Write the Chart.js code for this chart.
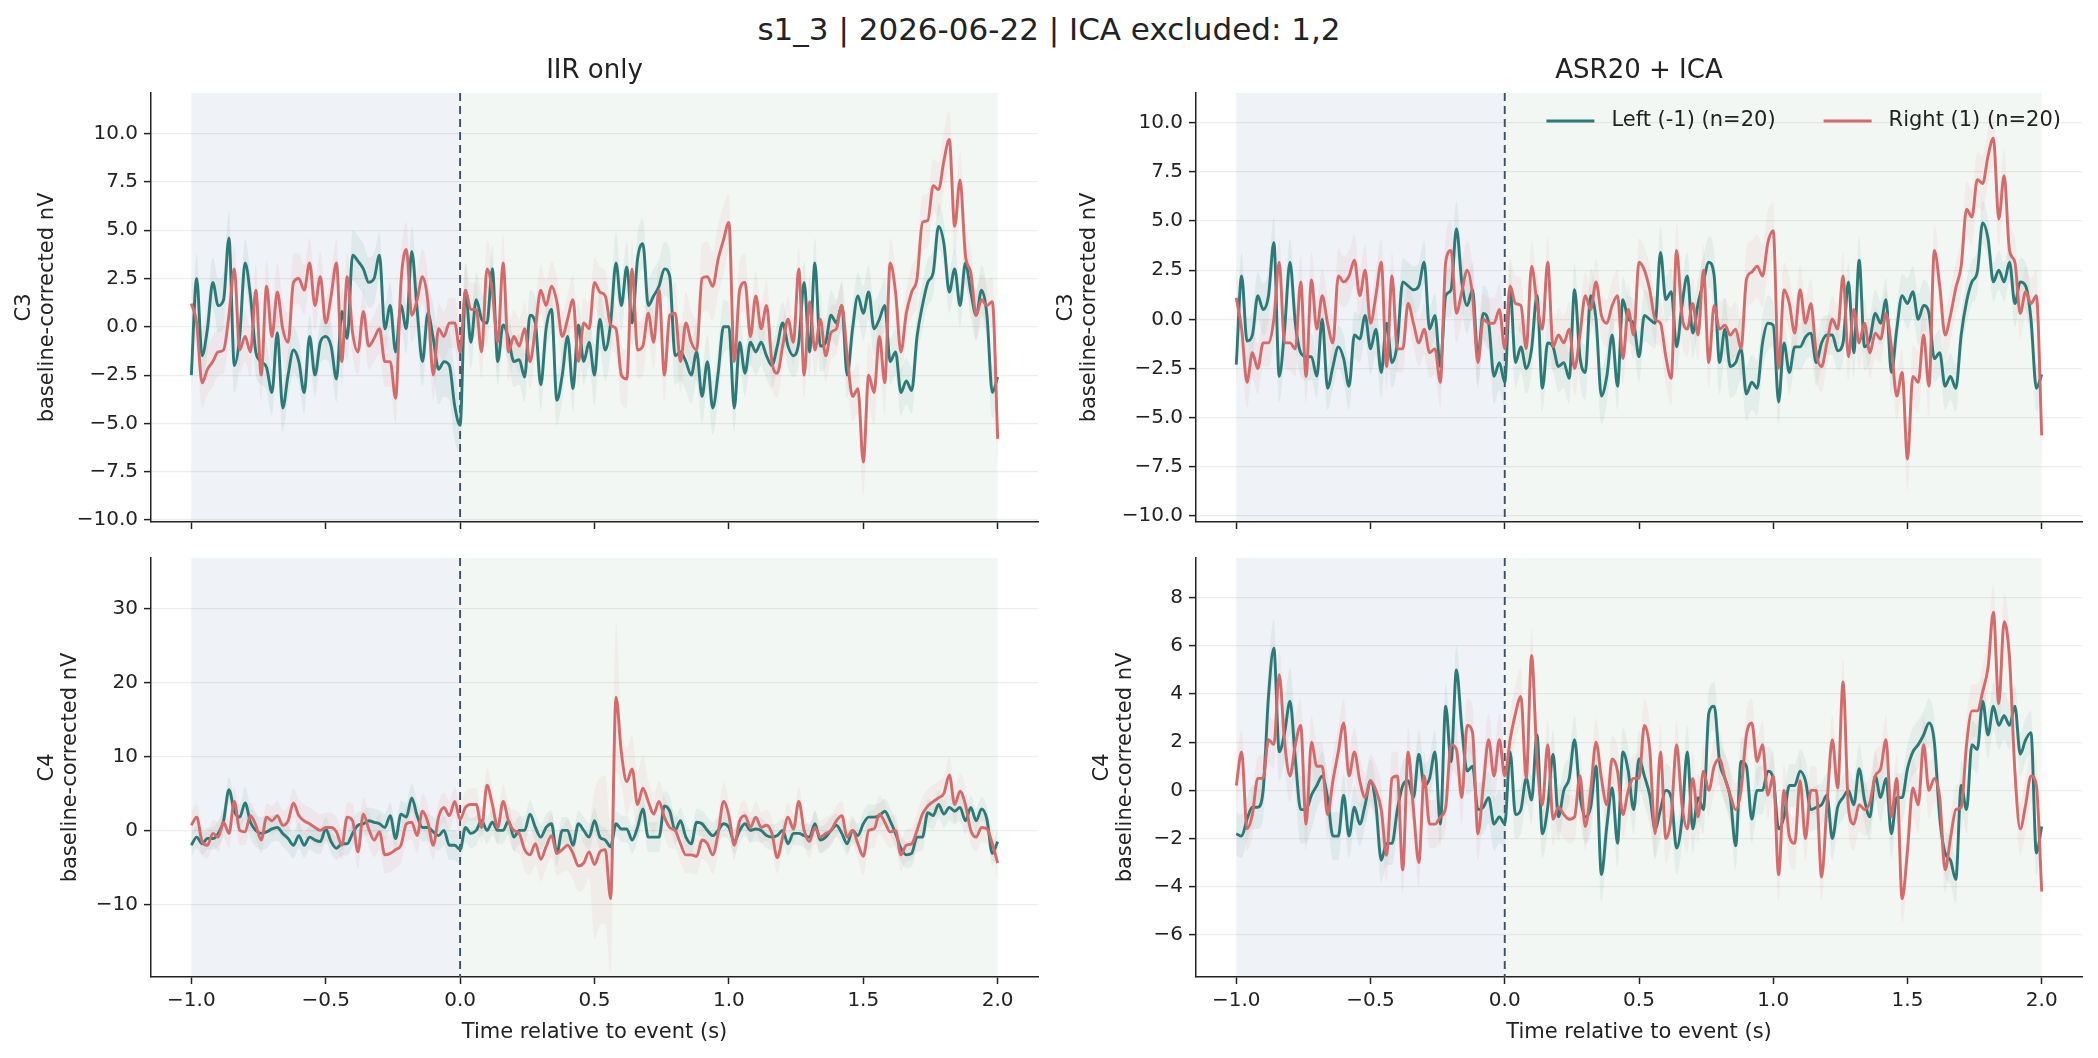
<!DOCTYPE html>
<html>
<head>
<meta charset="utf-8">
<script src="https://cdn.jsdelivr.net/npm/chart.js@4.4.1/dist/chart.umd.min.js"></script>
<style>
  body { margin: 0; background: #fff; width: 2098px; height: 1058px; position: relative; overflow: hidden; font-family: "DejaVu Sans", sans-serif; }
  #suptitle { position: absolute; left: 0; top: 10px; width: 2098px; text-align: center; font-size: 31px; line-height: 38px; color: #222; }
  canvas { position: absolute; }
</style>
</head>
<body>
<div id="suptitle">s1_3 | 2026-06-22 | ICA excluded: 1,2</div>
<canvas id="c3iir" width="1049" height="500" style="left:0;top:40px"></canvas>
<canvas id="c3asr" width="1049" height="500" style="left:1049px;top:40px"></canvas>
<canvas id="c4iir" width="1049" height="518" style="left:0;top:540px"></canvas>
<canvas id="c4asr" width="1049" height="518" style="left:1049px;top:540px"></canvas>
<script>
// sample grid: -1.0 .. 2.0 s, every 0.02 s (151 samples)
const times = Array.from({length: 151}, (_, i) => -1 + i * 0.02);
const xTicks = [-1, -0.5, 0, 0.5, 1, 1.5, 2];
const c3Ticks = [-10, -7.5, -5, -2.5, 0, 2.5, 5, 7.5, 10];
const c4IirTicks = [-10, 0, 10, 20, 30];
const c4AsrTicks = [-6, -4, -2, 0, 2, 4, 6, 8];
const baselineWin = [-1, 0];
const postWin = [0, 2];

// C3, IIR only
const c3IirLeft = [-2.5,2.5,-1.5,-0.1,2.3,1.1,1.4,4.6,-2.0,-0.5,3.3,1.6,-1.3,-1.8,-2.1,-3.4,-0.3,-4.2,-2.5,-1.2,-1.8,-3.4,-0.5,-2.5,-0.8,-0.5,-1.0,-2.7,0.8,-0.6,3.7,3.4,3.0,2.3,2.5,3.7,-0.1,1.1,-1.3,1.1,-0.1,3.9,0.9,-1.8,0.7,-0.6,-2.2,-1.8,-2.0,-4.1,-5.1,
  1.9,-0.8,1.4,0.4,0.2,3.0,-1.8,0.1,-0.6,-1.8,-1.7,-2.6,0.6,0.2,-3.0,-0.1,0.9,-3.8,-2.5,-0.5,-3.2,0.1,-1.8,-0.8,-2.5,0.4,-1.2,0.2,3.3,1.1,3.1,0.2,3.5,4.3,1.1,1.6,2.1,3.0,2.6,-1.5,-1.3,-1.8,-2.5,-1.3,-3.6,-1.8,-4.2,-2.4,0.0,0.0,
  -4.2,-0.8,-2.4,-0.8,-1.3,-0.8,-1.5,-2.0,-1.0,0.2,-1.0,-1.5,-0.8,2.3,-1.3,3.3,-1.0,-0.8,0.6,0.2,1.1,-2.5,-0.1,1.6,0.7,1.8,-0.1,0.4,1.1,-1.8,-1.3,-3.4,-2.8,-3.3,-0.5,1.1,2.3,2.8,5.2,4.3,1.8,3.0,1.1,3.3,1.8,0.6,1.9,0.6,-3.4,-2.6];
const c3IirRight = [1.2,0.2,-2.9,-2.2,-1.8,-1.3,-1.2,0.6,3.0,-1.2,-0.5,-1.3,1.9,-2.5,2.1,-0.5,1.8,-0.1,-0.8,2.3,2.5,1.9,3.3,1.1,2.6,0.2,1.6,3.3,-1.8,2.6,-0.3,-1.3,0.8,-1.0,-0.6,-0.1,-1.8,-1.8,-3.7,2.3,4.0,0.6,1.4,2.6,1.3,-2.5,-0.1,-0.5,0.2,0.2,-1.3,
  1.9,0.9,0.9,-1.3,3.0,1.8,-0.8,3.3,-1.3,-0.5,-1.0,-0.1,-1.8,-0.1,1.9,1.1,2.1,1.3,-0.5,0.4,1.4,-1.8,0.2,-0.1,2.3,1.8,1.6,0.1,-0.1,-2.5,-2.7,3.0,-1.2,-1.0,0.7,-0.8,1.9,-2.5,0.6,0.7,-1.8,0.2,-0.8,-1.2,2.5,2.6,2.1,3.5,4.5,5.4,
  -1.8,1.9,2.3,-0.5,1.6,-0.1,1.1,-1.8,-2.4,-1.0,0.4,-0.8,3.0,-2.5,1.3,-1.2,0.4,-1.5,-0.3,-0.1,1.1,-1.5,-3.6,-3.2,-7.0,-2.5,-3.4,-0.5,-2.9,3.3,1.8,-1.3,0.7,1.8,2.5,5.4,5.5,7.3,7.1,8.6,9.7,5.2,7.6,3.7,2.8,0.6,1.4,1.1,1.3,-5.8];
// half-width of the shaded band, one value per 0.1 s
const c3IirLeftSem = [1.3,1.4,1.2,1.2,1.1,1.2,1.3,1.2,1.3,1.8,1.4,1.2,1.3,1.3,1.2,1.6,1.3,1.4,1.5,1.4,1.2,1.2,1.1,1.3,1.2,1.4,1.2,1.2,1.1,1.3];
const c3IirRightSem = [1.3,1.2,1.3,1.5,1.3,1.2,1.2,1.3,1.4,1.3,1.4,1.5,1.4,1.3,1.3,1.3,1.5,1.4,1.6,1.8,1.5,1.3,1.2,1.4,1.3,1.7,1.3,1.4,1.5,1.3];

// C3, ASR20 + ICA
const c3AsrLeft = [-2.3,2.2,-1.1,-0.8,1.2,0.5,1.2,3.9,-2.9,-0.5,2.9,-0.2,-1.7,-1.9,-1.9,-2.9,0.0,-3.5,-2.4,-1.4,-2.0,-3.4,-0.8,-1.0,0.2,-1.5,-0.5,-2.7,-0.2,-2.2,-1.2,1.9,1.7,1.5,1.7,2.9,-0.5,0.2,-2.4,1.2,1.5,4.6,1.9,0.7,1.5,-1.9,0.3,-0.2,-2.9,-2.2,-3.2,
  1.5,-2.2,-1.4,-2.5,-1.5,1.2,-3.5,-1.2,-1.4,-2.4,-2.2,-3.0,1.5,-1.9,-2.7,1.2,0.0,-3.9,-2.9,-0.8,-3.4,1.0,0.0,-0.2,-1.9,0.2,0.0,-0.2,3.4,1.0,1.4,-1.4,0.7,2.2,-0.7,0.8,1.9,2.9,2.2,-2.2,-0.5,-2.4,-2.2,-1.5,-3.8,-3.2,-3.5,-1.2,-0.2,-0.3,
  -4.2,-1.2,-2.7,-1.4,-1.4,-0.9,-0.7,-2.2,-1.2,-0.8,-0.8,-1.6,-1.2,1.9,-1.7,3.0,-1.4,-1.0,0.3,-0.2,1.0,-2.7,-0.5,1.2,0.8,1.4,0.0,0.7,0.3,-2.0,-1.7,-3.4,-2.9,-3.5,-0.8,0.9,1.9,2.4,4.9,4.1,1.9,2.5,1.9,2.9,0.8,1.9,1.7,0.0,-3.5,-2.8];
const c3AsrRight = [1.1,-0.5,-3.2,-1.7,-2.5,-1.2,-1.2,0.0,2.9,-1.2,-1.2,-1.5,1.9,-2.9,2.0,-0.5,1.2,-0.2,-1.2,2.2,1.9,2.2,3.0,1.2,2.5,-0.2,1.2,2.9,-2.4,2.2,-1.5,-1.5,0.8,-0.2,-1.2,-0.5,-1.7,-1.5,-3.2,2.9,3.5,0.3,1.4,2.5,1.2,-2.2,0.0,-0.2,-0.2,0.5,-1.5,
  1.7,0.8,0.7,-1.5,2.7,0.8,-0.5,2.9,-1.4,-0.8,-1.2,-0.5,-2.5,-0.8,1.2,0.5,1.9,0.2,-0.2,0.7,1.2,-2.0,0.5,-0.8,2.9,2.5,1.5,0.0,-0.2,-1.9,-3.0,3.5,0.2,-0.5,0.8,-0.8,2.5,-2.2,0.7,-0.5,-0.3,-0.8,-0.5,-1.5,2.0,2.4,2.7,2.2,3.9,4.5,
  -2.5,1.5,0.8,-0.7,1.5,-0.2,0.8,-1.7,-2.4,-1.2,0.0,-0.5,2.2,-1.9,0.5,-1.2,-0.2,-1.7,-0.7,-1.0,0.3,-1.4,-3.9,-2.7,-7.1,-2.9,-3.2,-0.8,-3.4,3.5,1.7,-0.8,0.2,1.6,2.7,5.6,5.2,7.1,6.9,8.3,9.2,5.1,7.3,3.5,2.9,0.3,1.4,0.8,1.2,-5.9];
const c3AsrLeftSem = [1.2,1.3,1.2,1.1,1.2,1.3,1.2,1.1,1.4,1.4,1.3,1.2,1.3,1.4,1.2,1.3,1.2,1.3,1.6,1.4,1.1,1.2,1.0,1.2,1.1,1.3,1.2,1.1,1.0,1.2];
const c3AsrRightSem = [1.3,1.2,1.4,1.4,1.3,1.2,1.2,1.3,1.5,1.3,1.4,1.3,1.4,1.2,1.3,1.2,1.4,1.3,1.4,1.6,1.4,1.3,1.2,1.3,1.2,1.6,1.3,1.4,1.4,1.3];

// C4, IIR only
const c4IirLeft = [-2.0,-0.9,-1.8,-1.1,-1.1,-0.4,1.3,5.5,2.6,1.8,3.7,1.1,0.0,-0.4,-0.2,0.2,0.4,-0.4,-1.1,-2.0,-0.7,-2.0,-0.9,-1.3,-1.5,0.2,-1.5,-2.4,-1.8,-1.8,-0.4,0.7,0.9,1.3,1.1,0.9,0.4,2.0,-1.1,2.2,1.8,4.4,2.0,0.4,0.4,-0.2,-0.7,0.0,-2.0,-2.0,-2.6,
  0.4,-0.4,0.0,1.3,0.0,1.1,0.0,0.0,1.3,-0.9,0.0,0.0,2.2,0.4,-0.9,0.4,0.9,-3.1,0.0,0.0,-2.0,0.9,0.0,-0.9,1.3,-0.9,-1.3,-2.2,0.9,0.2,0.2,-1.3,0.4,2.9,-0.9,-0.9,-0.9,3.3,2.6,0.0,1.3,-0.9,-1.8,1.1,0.9,0.0,-0.7,0.0,0.9,0.4,
  -1.5,0.0,0.9,0.0,0.2,0.0,-0.7,-0.9,-0.7,0.0,-1.8,-0.4,-0.4,-0.7,-0.9,0.9,-1.3,-0.9,0.0,0.7,-0.4,-1.8,0.0,-0.7,0.9,1.8,1.8,2.0,2.6,1.3,-0.4,-2.4,-3.3,-3.1,-0.9,-0.9,2.4,2.0,3.5,2.2,3.1,2.6,3.1,1.3,3.1,1.3,2.9,1.5,-3.1,-1.5];
const c4IirRight = [0.7,1.8,-1.5,-2.0,-0.4,-0.9,1.1,-0.4,3.9,0.0,-0.2,2.0,0.7,-1.3,1.8,1.3,2.0,0.7,1.3,3.7,2.0,1.3,0.9,0.4,0.0,0.4,0.4,-0.2,-2.0,1.8,1.3,-2.9,2.2,0.2,-1.3,-0.2,-3.3,-3.1,-2.6,-2.0,0.9,1.1,-0.7,2.6,1.1,-2.0,1.8,3.1,2.0,3.9,1.5,
  3.1,3.5,3.5,0.4,6.1,3.5,0.4,3.9,1.3,0.0,-0.4,-2.6,-3.3,-1.8,-3.9,-2.2,-0.7,-3.1,-2.6,-2.0,-3.1,-4.8,-4.4,-2.9,-4.6,-2.9,-2.6,-9.2,18.0,10.5,6.6,8.3,3.5,5.7,3.9,2.2,3.9,1.8,0.4,0.0,-1.8,-3.3,-3.3,-3.5,-1.3,-1.8,-3.3,-0.4,3.9,2.0,
  -2.0,1.3,2.0,0.4,1.8,0.4,0.7,-0.4,-3.7,-0.9,1.8,0.2,3.9,0.0,-1.5,0.4,-0.9,-0.4,0.0,1.3,2.0,-0.9,0.0,-1.8,-3.5,0.0,0.2,2.2,1.1,-0.2,0.0,-3.3,-2.0,-1.8,0.0,2.2,3.3,3.9,4.4,5.0,7.5,3.5,5.3,3.5,0.0,-0.9,0.4,0.2,-1.8,-4.4];
const c4IirLeftSem = [1.5,1.7,2.2,1.8,1.7,1.6,1.8,1.8,1.9,2.0,2.0,1.8,1.9,1.8,1.8,1.7,1.8,2.0,1.8,1.8,1.7,1.7,1.6,1.8,1.6,1.7,1.8,1.9,1.8,1.6];
const c4IirRightSem = [1.8,2.0,1.8,2.0,2.2,2.0,2.3,2.5,2.4,2.0,2.2,2.3,2.8,3.0,3.5,10.0,4.5,2.8,2.5,2.6,2.0,2.1,2.0,2.2,2.0,2.6,2.2,2.3,2.4,2.0];

// C4, ASR20 + ICA
const c4AsrLeft = [-1.8,-1.9,-1.2,-0.7,-0.7,0.0,3.9,5.9,1.6,2.4,3.7,1.3,-0.8,-0.8,-0.2,0.2,0.6,-0.3,-1.9,-1.9,-0.2,-1.9,-0.7,-1.4,-0.6,0.4,-0.6,-2.9,-2.2,-2.2,-0.8,0.2,0.4,-0.3,1.5,0.2,0.5,1.6,-1.4,3.5,1.2,5.0,2.6,0.8,1.0,-0.8,-0.7,-0.3,-1.4,-1.1,-1.4,
  1.6,-1.0,-0.8,0.5,-0.4,2.3,-1.8,-0.7,1.5,-1.1,0.0,0.5,2.1,-0.2,-1.1,-0.7,1.0,-3.5,-1.5,0.1,-2.2,1.6,0.8,-0.8,1.3,0.6,-0.2,-1.6,-0.8,0.0,-0.3,-2.4,-1.2,1.6,-1.6,-0.3,-0.8,3.2,3.5,1.2,0.5,-0.3,-2.3,1.2,1.0,-1.2,0.0,0.0,0.8,0.5,
  -1.6,-1.1,0.2,0.2,0.8,0.4,-0.8,-0.7,-0.6,-0.2,-2.0,-0.7,-0.3,0.0,-0.6,0.9,-0.4,-1.1,0.6,-0.3,0.5,-1.8,-0.3,-0.3,0.9,1.6,1.9,2.3,2.8,2.0,-1.1,-2.6,-2.9,-3.7,0.2,-0.8,1.9,1.7,3.7,2.3,3.5,2.7,3.1,2.7,3.5,1.5,2.1,2.4,-2.6,-1.5];
const c4AsrRight = [0.2,1.6,-1.6,-1.0,0.5,0.5,2.1,1.9,4.8,2.0,0.6,1.9,2.7,-1.4,2.0,1.0,1.0,-1.0,0.4,1.6,2.8,0.6,1.6,0.4,-0.3,0.4,0.0,-0.8,-2.7,0.5,0.6,-3.3,1.6,-0.8,-3.0,0.6,-1.4,-1.4,-1.1,-0.7,1.9,1.7,-0.3,2.7,2.4,-1.8,0.2,2.1,0.6,2.1,0.6,
  2.1,3.2,3.9,0.5,5.6,1.3,-0.6,1.9,-1.2,-0.7,-1.0,-1.2,-1.1,0.6,-1.5,0.0,2.0,0.5,-0.6,1.3,0.8,-1.0,0.0,0.5,0.5,2.7,1.7,-1.8,1.6,-2.0,-1.1,1.9,-0.6,-1.6,0.5,-1.1,0.8,0.0,1.0,1.3,0.5,-0.2,-0.8,0.0,2.3,2.8,1.2,1.9,-0.2,0.6,
  -3.5,0.0,-1.9,-2.2,0.4,-2.0,0.0,0.0,-3.6,-0.6,2.1,0.1,4.5,-0.7,-1.4,-0.6,-0.8,-0.5,0.6,0.9,2.1,-1.1,0.5,-4.5,-2.5,0.1,-0.6,1.9,0.0,0.5,-0.3,-3.3,-2.0,-0.8,-0.7,1.9,3.3,3.3,4.1,5.1,7.4,3.6,7.0,5.5,0.8,-1.6,-0.6,0.6,0.2,-4.2];
const c4AsrLeftSem = [0.9,1.2,1.4,1.0,0.9,0.9,1.0,0.9,1.0,1.1,1.0,1.0,1.0,1.1,1.0,1.2,1.1,1.0,1.0,1.0,0.9,0.9,0.9,1.0,1.0,1.0,1.0,1.0,1.0,0.9];
const c4AsrRightSem = [0.9,1.0,1.1,1.0,1.0,1.1,1.0,1.0,1.1,1.1,1.2,1.1,1.0,1.0,1.0,1.1,1.0,1.1,1.1,1.0,1.1,1.0,1.0,1.1,1.0,1.2,1.0,1.1,1.2,1.1];

const FONT = '"DejaVu Sans", sans-serif';
const TEAL = '#2b7a78';
const RED = '#d46a6a';
const INK = '#222';

const minus = s => s.replace('-', '\u2212');
const pts = vals => vals.map((v, i) => ({x: times[i], y: v}));
const band = (vals, sem, sign) => vals.map((v, i) => ({x: times[i], y: v + sign * sem[Math.min(sem.length - 1, Math.floor(i / 5))]}));

function datasets(left, leftSem, right, rightSem) {
  return [
    {label: 'Right (1) (n=20)', data: pts(right), borderColor: RED, borderWidth: 2.9, order: 0},
    {label: 'Left (-1) (n=20)', data: pts(left), borderColor: TEAL, borderWidth: 2.9, order: 1},
    {label: '', data: band(left, leftSem, -1), borderWidth: 0, fill: false, order: 3},
    {label: '', data: band(left, leftSem, 1), borderWidth: 0, fill: '-1', backgroundColor: 'rgba(43,122,120,0.08)', order: 3},
    {label: '', data: band(right, rightSem, -1), borderWidth: 0, fill: false, order: 2},
    {label: '', data: band(right, rightSem, 1), borderWidth: 0, fill: '-1', backgroundColor: 'rgba(212,106,106,0.07)', order: 2}
  ];
}

// shading, event line, panel title and legend
const decor = {
  id: 'decor',
  beforeDraw(chart) {
    const {ctx, chartArea: a, scales: {x}} = chart;
    ctx.save();
    ctx.fillStyle = 'rgb(239,242,246)';
    ctx.fillRect(x.getPixelForValue(baselineWin[0]), a.top, x.getPixelForValue(baselineWin[1]) - x.getPixelForValue(baselineWin[0]), a.height);
    ctx.fillStyle = 'rgb(243,247,244)';
    ctx.fillRect(x.getPixelForValue(postWin[0]), a.top, x.getPixelForValue(postWin[1]) - x.getPixelForValue(postWin[0]), a.height);
    ctx.restore();
  },
  beforeDatasetsDraw(chart) {
    const {ctx, chartArea: a, scales: {x}} = chart;
    const px = x.getPixelForValue(0);
    ctx.save();
    ctx.strokeStyle = '#3f4f66';
    ctx.lineWidth = 1.9;
    ctx.setLineDash([8, 5]);
    ctx.beginPath();
    ctx.moveTo(px, a.top);
    ctx.lineTo(px, a.bottom);
    ctx.stroke();
    ctx.restore();
  },
  afterDraw(chart, args, opts) {
    const {ctx, chartArea: a} = chart;
    ctx.save();
    if (opts.title) {
      ctx.font = '26px ' + FONT;
      ctx.fillStyle = INK;
      ctx.textAlign = 'center';
      ctx.textBaseline = 'middle';
      ctx.fillText(opts.title, (a.left + a.right) / 2, opts.titleY);
    }
    if (opts.legend) {
      ctx.font = '21px ' + FONT;
      ctx.textBaseline = 'middle';
      ctx.textAlign = 'left';
      const y = a.top + 28;
      let xr = a.right - 21;
      const items = chart.data.datasets.filter(d => d.label).reverse(); // left first
      for (let i = items.length - 1; i >= 0; i--) {
        const d = items[i];
        const tw = ctx.measureText(d.label).width;
        const tx = xr - tw;
        ctx.fillStyle = INK;
        ctx.fillText(d.label, tx, y);
        ctx.strokeStyle = d.borderColor;
        ctx.lineWidth = 2.9;
        ctx.beginPath();
        ctx.moveTo(tx - 17 - 48, y);
        ctx.lineTo(tx - 17, y);
        ctx.stroke();
        xr = tx - 17 - 48 - 48;
      }
    }
    ctx.restore();
  }
};

function panel(id, cfg) {
  return new Chart(document.getElementById(id), {
    type: 'line',
    data: {datasets: datasets(cfg.left, cfg.leftSem, cfg.right, cfg.rightSem)},
    options: {
      responsive: false,
      animation: false,
      devicePixelRatio: 1,
      elements: {point: {radius: 0}, line: {cubicInterpolationMode: 'monotone'}},
      layout: {autoPadding: false, padding: {left: 0, right: cfg.padRight, top: cfg.padTop, bottom: 0}},
      plugins: {
        legend: {display: false},
        tooltip: {enabled: false},
        decor: {title: cfg.title, titleY: 31, legend: cfg.legend}
      },
      scales: {
        x: {
          type: 'linear', min: -1.15, max: 2.15,
          afterBuildTicks: s => { s.ticks = xTicks.map(v => ({value: v})); },
          afterFit: s => { s.height = cfg.bottom ? 81 : 17.5; },
          grid: {drawOnChartArea: false, tickLength: 7, tickWidth: 1.5, tickColor: INK},
          border: {color: INK, width: 1.5},
          ticks: {display: cfg.bottom, padding: 5, color: INK, maxRotation: 0, autoSkip: false,
                  font: {size: 20, family: FONT}, callback: v => minus(v.toFixed(1))},
          title: {display: cfg.bottom, text: 'Time relative to event (s)', color: INK,
                  font: {size: 21, family: FONT, lineHeight: 1.1}, padding: {top: 0, bottom: 14}}
        },
        y: {
          min: cfg.yMin, max: cfg.yMax,
          afterBuildTicks: s => { s.ticks = cfg.yTicks.map(v => ({value: v})); },
          afterFit: s => { s.width = cfg.yWidth; },
          grid: {color: 'rgba(0,0,0,0.065)', lineWidth: 1.2, tickLength: 7, tickWidth: 1.5, tickColor: INK},
          border: {color: INK, width: 1.5},
          ticks: {padding: 6, color: INK, font: {size: 20, family: FONT}, callback: cfg.yFmt},
          title: {display: true, text: [cfg.channel, 'baseline-corrected nV'], color: INK,
                  font: {size: 21, family: FONT, lineHeight: 1.1}, padding: {top: cfg.titlePad, bottom: 0}}
        }
      }
    },
    plugins: [decor]
  });
}

const oneDec = v => minus(v.toFixed(1));
const noDec = v => minus(String(v));

panel('c3iir', {left: c3IirLeft, leftSem: c3IirLeftSem, right: c3IirRight, rightSem: c3IirRightSem,
  title: 'IIR only', channel: 'C3', yMin: -10.1, yMax: 12.1, yTicks: c3Ticks, yFmt: oneDec,
  yWidth: 151, padRight: 11, padTop: 53, titlePad: 12.5, bottom: false, legend: false});
panel('c3asr', {left: c3AsrLeft, leftSem: c3AsrLeftSem, right: c3AsrRight, rightSem: c3AsrRightSem,
  title: 'ASR20 + ICA', channel: 'C3', yMin: -10.3, yMax: 11.5, yTicks: c3Ticks, yFmt: oneDec,
  yWidth: 147, padRight: 16, padTop: 53, titlePad: 5.5, bottom: false, legend: true});
panel('c4iir', {left: c4IirLeft, leftSem: c4IirLeftSem, right: c4IirRight, rightSem: c4IirRightSem,
  title: '', channel: 'C4', yMin: -19.8, yMax: 36.8, yTicks: c4IirTicks, yFmt: noDec,
  yWidth: 151, padRight: 11, padTop: 7, titlePad: 35.5, bottom: true, legend: false});
panel('c4asr', {left: c4AsrLeft, leftSem: c4AsrLeftSem, right: c4AsrRight, rightSem: c4AsrRightSem,
  title: '', channel: 'C4', yMin: -7.75, yMax: 9.65, yTicks: c4AsrTicks, yFmt: noDec,
  yWidth: 147, padRight: 16, padTop: 7, titlePad: 41.5, bottom: true, legend: false});
</script>
</body>
</html>
